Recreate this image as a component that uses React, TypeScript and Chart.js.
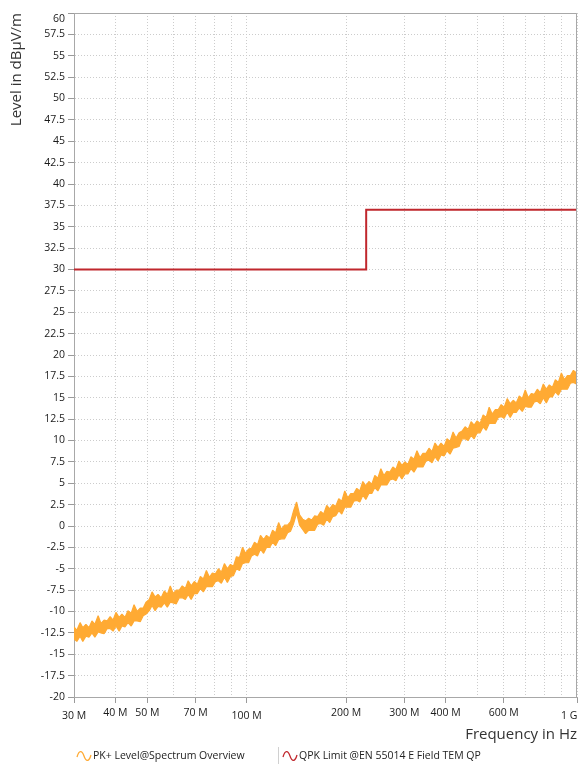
import React, { useEffect, useRef } from "react";
import { Chart, registerables } from "chart.js";

Chart.register(...registerables);

// ---- data ----
const freqMHz = [
  30, 30.6, 31.3, 31.9, 32.6, 33.3, 34.0, 34.7, 35.5, 36.2,
  37.0, 37.8, 38.6, 39.4, 40.2, 41.1, 41.9, 42.8, 43.7, 44.7,
  45.6, 46.6, 47.6, 48.6, 49.6, 50.7, 51.7, 52.8, 53.9, 55.1,
  56.3, 57.5, 58.7, 59.9, 61.2, 62.5, 63.8, 65.2, 66.5, 67.9,
  69.4, 70.9, 72.4, 73.9, 75.5, 77.1, 78.7, 80.4, 82.1, 83.8,
  85.6, 87.4, 89.3, 91.2, 93.1, 95.1, 97.1, 99.2, 101.3, 103.4,
  105.6, 107.8, 110.1, 112.5, 114.8, 117.3, 119.8, 122.3, 124.9, 127.5,
  130.2, 133.0, 135.8, 138.7, 141.6, 144.6, 147.7, 150.8, 154.0, 157.3,
  160.6, 164.0, 167.5, 171.0, 174.7, 178.4, 182.1, 186.0, 190.0, 194.0,
  198.1, 202.3, 206.6, 211.0, 215.4, 220.0, 224.7, 229.4, 234.3, 239.2,
  244.3, 249.5, 254.8, 260.2, 265.7, 271.3, 277.1, 283.0, 289.0, 295.1,
  301.3, 307.7, 314.2, 320.9, 327.7, 334.6, 341.7, 349.0, 356.4, 363.9,
  371.6, 379.5, 387.6, 395.8, 404.2, 412.7, 421.5, 430.4, 439.5, 448.8,
  458.4, 468.1, 478.0, 488.1, 498.5, 509.0, 519.8, 530.9, 542.1, 553.6,
  565.3, 577.3, 589.5, 602.0, 614.8, 627.8, 641.1, 654.7, 668.6, 682.8,
  697.2, 712.0, 727.1, 742.5, 758.3, 774.3, 790.8, 807.5, 824.6, 842.1,
  860.0, 878.2, 896.8, 915.8, 935.2, 955.1, 975.3, 996.0, 1000,
];

// PK+ trace: upper edge of the noisy band (dBµV/m)
const pkUpper = [
  -11.8, -12.2, -11.3, -11.9, -11.5, -11.9, -11.1, -11.5, -10.5, -11.4,
  -11.0, -11.1, -10.6, -11.0, -10.1, -10.7, -10.3, -10.7, -9.9, -10.2,
  -9.2, -10.0, -9.6, -9.6, -8.9, -8.6, -7.7, -8.3, -8.0, -8.4,
  -7.6, -8.0, -7.0, -7.9, -7.5, -7.5, -7.0, -7.3, -6.4, -7.0,
  -6.5, -6.8, -5.9, -6.2, -5.2, -6.0, -5.5, -5.6, -5.0, -5.4,
  -4.4, -5.0, -4.5, -4.7, -3.6, -3.7, -2.5, -3.2, -2.7, -2.6,
  -1.9, -2.2, -1.1, -1.6, -1.1, -1.4, -0.5, -0.8, 0.4, -0.4,
  0.1, 0.1, 0.5, 1.8, 2.8, 1.3, 0.8, 0.6, 0.9, 0.7,
  1.2, 1.1, 1.7, 1.4, 2.4, 2.0, 2.5, 2.3, 3.2, 2.9,
  4.1, 3.3, 3.8, 3.8, 4.4, 4.1, 5.2, 4.7, 5.2, 4.9,
  5.9, 5.6, 6.7, 5.9, 6.4, 6.3, 6.9, 6.6, 7.6, 7.1,
  7.5, 7.2, 8.1, 7.8, 8.8, 8.0, 8.5, 8.5, 9.1, 8.7,
  9.7, 9.2, 9.7, 9.3, 10.2, 9.9, 11.0, 10.3, 10.9, 11.1,
  11.6, 11.3, 12.2, 11.8, 12.3, 12.0, 13.0, 12.7, 13.9, 13.1,
  13.6, 13.6, 14.2, 13.9, 14.9, 14.3, 14.7, 14.4, 15.2, 14.9,
  15.9, 15.0, 15.5, 15.4, 16.0, 15.6, 16.6, 16.0, 16.5, 16.2,
  17.1, 16.8, 17.9, 17.1, 17.6, 17.6, 18.2, 17.9, 18.9,
];

// PK+ trace: lower edge of the noisy band (dBµV/m)
const pkLower = [
  -13.2, -13.5, -12.9, -13.5, -12.9, -13.0, -12.5, -13.0, -12.4, -12.5,
  -12.6, -12.0, -12.0, -12.3, -11.7, -12.3, -11.7, -11.8, -11.3, -11.7,
  -11.1, -11.1, -11.2, -10.5, -10.3, -9.9, -9.3, -9.9, -9.4, -9.5,
  -9.0, -9.5, -8.9, -9.0, -9.1, -8.4, -8.4, -8.6, -8.0, -8.6,
  -7.9, -7.9, -7.3, -7.7, -7.1, -7.1, -7.1, -6.5, -6.4, -6.7,
  -6.0, -6.6, -5.9, -5.8, -5.0, -5.2, -4.4, -4.3, -4.3, -3.5,
  -3.3, -3.5, -2.7, -3.2, -2.5, -2.5, -1.9, -2.3, -1.6, -1.5,
  -1.5, -0.8, -0.6, 0.3, 1.5, 0.1, -0.4, -0.9, -0.5, -0.5,
  -0.5, 0.2, 0.3, 0.1, 0.8, 0.4, 1.1, 1.2, 1.8, 1.4,
  2.2, 2.2, 2.2, 2.9, 3.0, 2.8, 3.6, 3.1, 3.8, 3.8,
  4.5, 4.1, 4.8, 4.8, 4.8, 5.4, 5.5, 5.3, 6.0, 5.5,
  6.1, 6.1, 6.7, 6.3, 6.9, 6.9, 6.9, 7.6, 7.7, 7.4,
  8.1, 7.6, 8.3, 8.2, 8.8, 8.4, 9.1, 9.2, 9.3, 10.2,
  10.2, 10.0, 10.6, 10.2, 10.9, 10.9, 11.6, 11.2, 12.0, 12.0,
  12.0, 12.7, 12.8, 12.6, 13.3, 12.7, 13.3, 13.3, 13.8, 13.4,
  14.0, 13.9, 13.9, 14.5, 14.6, 14.3, 15.0, 14.4, 15.1, 15.1,
  15.7, 15.3, 16.0, 16.0, 16.0, 16.7, 16.8, 16.6, 17.3,
];

const limitFreqMHz = [30, 230, 230, 1000];
const limitLevel = [30, 30, 37, 37];

const xGridMHz = [30, 40, 50, 60, 70, 80, 90, 100, 200, 300, 400, 500, 600, 700, 800, 900, 1000];
const xLabelMHz = [30, 40, 50, 70, 100, 200, 300, 400, 600, 1000];
const xLabelText = ["30 M", "40 M", "50 M", "70 M", "100 M", "200 M", "300 M", "400 M", "600 M", "1 G\u2002\u2002\u2002"];
const xLowLabelMHz = [30, 100, 1000];

const yMin = -20;
const yMax = 60;
const yStep = 2.5;

const seriesNames = ["PK+ Level@Spectrum Overview", "QPK Limit @EN 55014 E Field TEM QP"];
const seriesColors = ["#FFAA33", "#C0272D"];
const xTitle = "Frequency in Hz";
const yTitle = "Level in dB\u00B5V/m";

const FONT = "'Open Sans', 'Noto Sans', sans-serif";

function drawWave(ctx: CanvasRenderingContext2D, x: number, y: number, color: string) {
  ctx.save();
  ctx.strokeStyle = color;
  ctx.lineWidth = 1.3;
  ctx.beginPath();
  ctx.moveTo(x, y + 1);
  ctx.bezierCurveTo(x + 2, y - 6, x + 5, y - 6, x + 7, y);
  ctx.bezierCurveTo(x + 9, y + 6, x + 12, y + 6, x + 14, y - 1);
  ctx.stroke();
  ctx.restore();
}

const framePlugin = {
  id: "frameAndLegend",
  afterDraw(chart: any) {
    const { ctx, chartArea } = chart;
    ctx.save();
    ctx.strokeStyle = "#a8a8a8";
    ctx.lineWidth = 1;
    ctx.beginPath();
    const t = Math.round(chartArea.top) + 0.5;
    const r = Math.round(chartArea.right) - 0.5;
    ctx.moveTo(chartArea.left, t);
    ctx.lineTo(r, t);
    ctx.lineTo(r, chartArea.bottom);
    ctx.stroke();

    // legend
    const ly = 756;
    const ds = chart.data.datasets;
    const pk = ds.find((d: any) => d.label === seriesNames[0]);
    const lim = ds.find((d: any) => d.label === seriesNames[1]);
    ctx.font = `10.5px ${FONT}`;
    ctx.fillStyle = "#222";
    ctx.textBaseline = "middle";
    ctx.textAlign = "left";
    drawWave(ctx, 77, ly, pk.borderColor);
    ctx.fillText(pk.label, 93, ly);
    ctx.strokeStyle = "#d0d0d0";
    ctx.beginPath();
    ctx.moveTo(278.5, 747);
    ctx.lineTo(278.5, 764);
    ctx.stroke();
    drawWave(ctx, 283, ly, lim.borderColor);
    ctx.fillText(lim.label, 299, ly);
    ctx.restore();
  },
};

export default function App() {
  const ref = useRef<HTMLCanvasElement | null>(null);

  useEffect(() => {
    document.body.style.margin = "0";
    const canvas = ref.current;
    if (!canvas) return;
    const chart = new Chart(canvas, {
      type: "line",
      data: {
        datasets: [
          {
            label: seriesNames[0],
            data: freqMHz.map((f, i) => ({ x: f * 1e6, y: pkUpper[i] })),
            borderColor: seriesColors[0],
            backgroundColor: seriesColors[0],
            borderWidth: 1.2,
            borderJoinStyle: "bevel",
            pointRadius: 0,
            tension: 0,
            fill: "+1",
          },
          {
            label: "PK+ lower edge",
            data: freqMHz.map((f, i) => ({ x: f * 1e6, y: pkLower[i] })),
            borderColor: seriesColors[0],
            borderWidth: 1.2,
            borderJoinStyle: "bevel",
            pointRadius: 0,
            tension: 0,
            fill: false,
          },
          {
            label: seriesNames[1],
            data: limitFreqMHz.map((f, i) => ({ x: f * 1e6, y: limitLevel[i] })),
            borderColor: seriesColors[1],
            borderWidth: 2,
            pointRadius: 0,
            tension: 0,
            fill: false,
          },
        ],
      },
      plugins: [framePlugin],
      options: {
        animation: false,
        responsive: true,
        maintainAspectRatio: false,
        layout: { padding: { top: 13, right: 1, bottom: 17, left: 0 } },
        plugins: {
          legend: { display: false },
          tooltip: { enabled: false },
          title: { display: false },
          filler: { propagate: false },
        },
        scales: {
          x: {
            type: "logarithmic",
            min: 30e6,
            max: 1e9,
            afterBuildTicks: (s: any) => {
              s.ticks = xGridMHz.map((v) => ({ value: v * 1e6 }));
            },
            afterFit: (s: any) => {
              s.height = 50;
              s.paddingLeft = 0;
              s.paddingRight = 0;
            },
            ticks: {
              autoSkip: false,
              maxRotation: 0,
              minRotation: 0,
              padding: 4,
              color: "#1a1a1a",
              font: (c: any) => ({
                family: FONT,
                size: 10.5,
                lineHeight:
                  c.tick && xLowLabelMHz.indexOf(Math.round(c.tick.value / 1e6)) >= 0 ? 1.75 : 1.2,
              }),
              callback: (v: any) => {
                const idx = xLabelMHz.indexOf(Math.round(Number(v) / 1e6));
                return idx >= 0 ? xLabelText[idx] : "";
              },
            },
            grid: {
              color: "#cccccc",
              lineWidth: 1,
              tickLength: 6,
              tickColor: (c: any) =>
                c.tick && xLabelMHz.indexOf(Math.round(c.tick.value / 1e6)) >= 0 ? "#9a9a9a" : "rgba(0,0,0,0)",
            },
            border: { color: "#a8a8a8", dash: [1, 2] },
            title: {
              display: true,
              text: xTitle,
              align: "end",
              color: "#333",
              font: { family: FONT, size: 15 },
              padding: { top: 0, bottom: 3 },
            },
          },
          y: {
            type: "linear",
            min: yMin,
            max: yMax,
            afterFit: (s: any) => {
              s.width = 74;
              s.paddingTop = 0;
              s.paddingBottom = 0;
            },
            ticks: {
              stepSize: yStep,
              autoSkip: false,
              padding: 3,
              color: "#1a1a1a",
              font: { family: FONT, size: 10.5 },
              callback: (v: any) => {
                const n = Math.round(Number(v) * 10) / 10;
                return n === yMax ? ["", String(n)] : String(n);
              },
            },
            grid: {
              color: "#cccccc",
              lineWidth: 1,
              tickLength: 6,
              tickColor: "#9a9a9a",
            },
            border: { color: "#a8a8a8", dash: [1, 2] },
            title: {
              display: true,
              text: yTitle,
              align: "end",
              color: "#333",
              font: { family: FONT, size: 15 },
              padding: { top: 8, bottom: 0 },
            },
          },
        },
      } as any,
    });
    return () => chart.destroy();
  }, []);

  return (
    <div style={{ position: "relative", width: 578, height: 764 }}>
      <canvas ref={ref} />
    </div>
  );
}
